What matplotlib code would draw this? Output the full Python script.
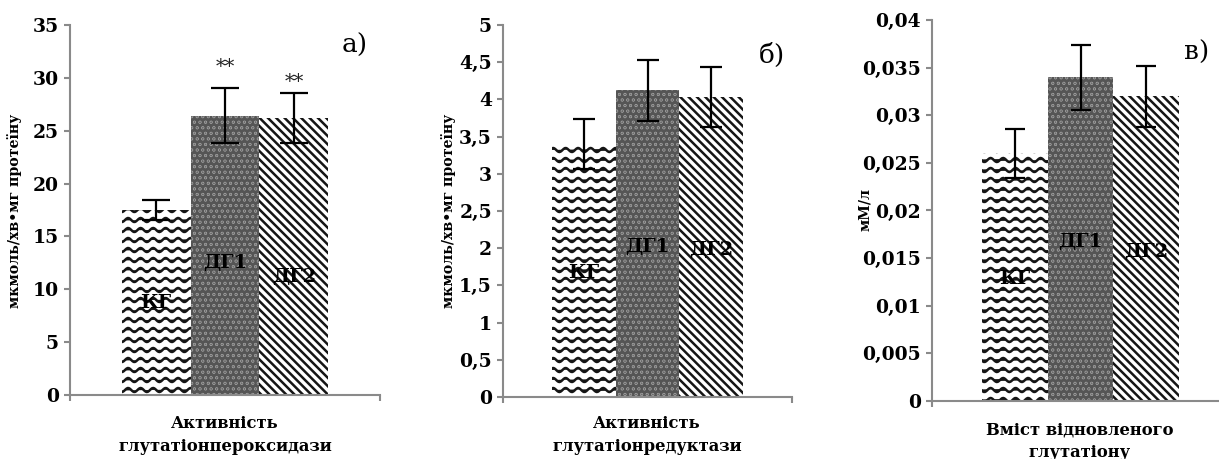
import numpy as np
import matplotlib
matplotlib.use("Agg")
import matplotlib.pyplot as plt
import matplotlib.hatch as mhatch
from matplotlib.path import Path
from matplotlib.ticker import FuncFormatter, MultipleLocator

# ---------------- data ----------------
groups = ["КГ", "ДГ1", "ДГ2"]

gpx_values = [17.5, 26.4, 26.2]
gpx_errors = [0.9, 2.6, 2.4]
gpx_marks = ["", "**", "**"]

gr_values = [3.40, 4.12, 4.03]
gr_errors = [0.34, 0.41, 0.40]

gsh_values = [0.0260, 0.0340, 0.0320]
gsh_errors = [0.0026, 0.0034, 0.0032]

xlabels = ["Активність\nглутатіонпероксидази",
           "Активність\nглутатіонредуктази",
           "Вміст відновленого\nглутатіону"]
ylabels = ["мкмоль/хв•мг протеїну", "мкмоль/хв•мг протеїну", "мМ/л"]
panel_tags = ["а)", "б)", "в)"]

# ---------------- custom hatches ----------------
class WaveHatch(mhatch.HatchPatternBase):
    periods = 8
    amp = 0.02
    npp = 12

    def __init__(self, hatch, density):
        self.num_lines = int(hatch.count('o') * 5)
        self.npts = self.periods * self.npp + 1
        self.num_vertices = (self.num_lines + 1) * self.npts if self.num_lines else 0

    def set_vertices_and_codes(self, vertices, codes):
        xs = np.linspace(-0.01, 1.01, self.npts)
        ys = self.amp * np.sin(2 * np.pi * self.periods * xs)
        rows = np.linspace(0, 1, self.num_lines + 1)
        n = self.npts
        for i, r in enumerate(rows):
            vertices[i * n:(i + 1) * n, 0] = xs
            vertices[i * n:(i + 1) * n, 1] = ys + r
            codes[i * n] = Path.MOVETO
            codes[i * n + 1:(i + 1) * n] = Path.LINETO


class FilledDots(mhatch.Shapes):
    size = 0.05
    filled = True

    def __init__(self, hatch, density):
        p = Path.unit_circle()
        self.shape_vertices = p.vertices
        self.shape_codes = p.codes
        self.num_rows = hatch.count('*') * density
        super().__init__(hatch, density)


mhatch._hatch_types[:] = [t for t in mhatch._hatch_types
                          if t.__name__ not in ("SmallCircles", "Stars")]
mhatch._hatch_types.extend([WaveHatch, FilledDots])

# ---------------- styling ----------------
plt.rcParams['font.family'] = ['DejaVu Serif']
plt.rcParams['hatch.linewidth'] = 1.8

W, H = 1219, 459
fig = plt.figure(figsize=(W / 100, H / 100), dpi=100)


def fx(x):
    return x / W


def fy(y):
    return 1 - y / H


bar_styles = [
    dict(facecolor="white", edgecolor="#151515", hatch="oo"),
    dict(facecolor="#555555", edgecolor="#bcbcbc", hatch="***"),
    dict(facecolor="white", edgecolor="#151515", hatch="\\\\\\\\"),
]

panels = [
    dict(vals=gpx_values, errs=gpx_errors, ymax=35, step=5,
         box=(70, 25, 380, 395), half=2.25, tick_fs=13.5, cap=10,
         lab_y=[0.25, 0.357, 0.32], fmt=lambda v: f"{v:g}"),
    dict(vals=gr_values, errs=gr_errors, ymax=5, step=0.5,
         box=(503, 25, 792, 397), half=2.27, tick_fs=13.5, cap=8,
         lab_y=[0.334, 0.404, 0.396], fmt=lambda v: f"{v:g}".replace('.', ',')),
    dict(vals=gsh_values, errs=gsh_errors, ymax=0.04, step=0.005,
         box=(932, 20, 1229, 401), half=2.26, tick_fs=13.5, cap=7,
         lab_y=[0.32, 0.417, 0.39], fmt=lambda v: (f"{v:.3f}".rstrip('0').rstrip('.').replace('.', ',') if v else "0")),
]

xpos = np.arange(len(groups)) - 1.0
spine_c = "#8a8a8a"

axes = []
for i, p in enumerate(panels):
    l, t, r, b = p['box']
    ax = fig.add_axes([fx(l), fy(b), fx(r - l), (b - t) / H])
    axes.append(ax)
    for x, v, st in zip(xpos, p['vals'], bar_styles):
        ax.bar(x, v, width=1.0, linewidth=0, **st, zorder=2)
    ax.errorbar(xpos, p['vals'], yerr=p['errs'], fmt='none', ecolor='black',
                elinewidth=1.6, capsize=p['cap'], capthick=1.6, zorder=3)
    ax.set_xlim(-p['half'], p['half'])
    ax.set_ylim(0, p['ymax'])
    ax.yaxis.set_major_locator(MultipleLocator(p['step']))
    fmt = p['fmt']
    ax.yaxis.set_major_formatter(FuncFormatter(lambda v, pos, f=fmt: f(round(v, 6))))
    ax.set_xticks([-p['half'], p['half']])
    ax.set_xticklabels(["", ""])
    for s in ("top", "right"):
        ax.spines[s].set_visible(False)
    for s in ("left", "bottom"):
        ax.spines[s].set_color(spine_c)
        ax.spines[s].set_linewidth(1.5)
    ax.tick_params(axis='both', direction='out', length=4, width=1.5, color=spine_c)
    ax.tick_params(axis='y', labelsize=p['tick_fs'], pad=4)
    for lab in ax.get_yticklabels():
        lab.set_fontweight('bold')
    ax.set_facecolor('none')
    for x, g, fy_ in zip(xpos, groups, p['lab_y']):
        ax.text(x, fy_, g, transform=ax.get_xaxis_transform(), ha='center', va='center',
                fontsize=14, fontweight='bold', color='black', zorder=4)

# significance marks on panel a
for x, m, yv in zip(xpos, gpx_marks, [0, 31.0, 29.6]):
    if m:
        axes[0].text(x, yv, m, ha='center', va='center', fontsize=14, color='#222222', zorder=4)

# y labels
for (x, y), txt, fs in zip([(15, 211), (448, 211), (865, 210)], ylabels, [10.2, 10.2, 10.2]):
    fig.text(fx(x), fy(y), txt, rotation=90, ha='center', va='center',
             fontsize=fs, fontweight='bold')

# x labels
for (x, y), txt in zip([(225, 435), (647, 435), (1080, 441)], xlabels):
    fig.text(fx(x), fy(y), txt, ha='center', va='center', fontsize=11.8,
             fontweight='bold', linespacing=1.4)

# panel tags
for (x, y), txt in zip([(355, 45), (772, 55), (1197, 52)], panel_tags):
    fig.text(fx(x), fy(y), txt, ha='center', va='center', fontsize=19)

fig.savefig("out.png", dpi=100)
